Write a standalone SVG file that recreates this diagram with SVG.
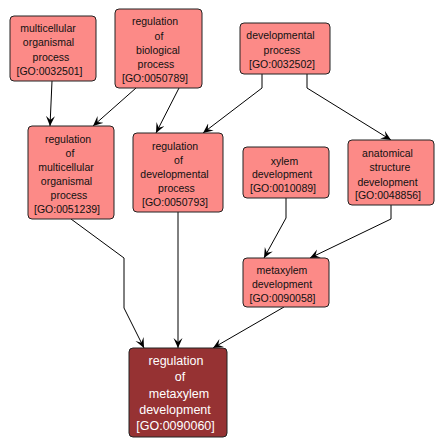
<svg xmlns="http://www.w3.org/2000/svg" width="445" height="448" viewBox="0 0 445 448">
<defs>
<style>
.n rect{fill:#fc8a87;stroke:#222;stroke-width:1}
.n text{font-family:"Liberation Sans",Arial,sans-serif;font-size:10.5px;fill:#111;text-anchor:middle}
#n9 rect{fill:#963233;stroke:#222}
#n9 text{fill:#fff;font-size:12.5px}
.e path{fill:none;stroke:#000;stroke-width:1;marker-end:url(#ah)}
</style>
<marker id="ah" markerUnits="userSpaceOnUse" markerWidth="11" markerHeight="10" refX="10" refY="4.5" orient="auto" viewBox="0 0 11 10">
<path d="M0,0 L10,4.5 L0,9 L4,4.5 z" fill="#000"/>
</marker>
</defs>
<rect width="445" height="448" fill="#fff"/>
<g class="e">
<path d="M52,81 L50,126"/>
<path d="M136,88 L93,126"/>
<path d="M179,88 L156,133"/>
<path d="M262,74 L262,88 L203,133"/>
<path d="M307,74 L307,88 L391,140"/>
<path d="M71,219 L124,258 L124,308 L144,348"/>
<path d="M178,212 L178,348"/>
<path d="M286,198 L286,218 L264,258"/>
<path d="M391,205 L391,219 L310,258"/>
<path d="M284,307 L213,348"/>
</g>
<g id="n1" class="n"><rect x="10" y="16" width="86" height="65" rx="4"/>
<text x="48" y="31.9">multicellular</text><text x="48.5" y="46.2">organismal</text><text x="51" y="60.5">process</text><text x="49.5" y="74.8">[GO:0032501]</text></g>
<g id="n2" class="n"><rect x="115" y="9" width="87" height="79" rx="4"/>
<text x="155" y="25.4">regulation</text><text x="159" y="39.6">of</text><text x="158" y="53.8">biological</text><text x="156" y="68">process</text><text x="155" y="82.2">[GO:0050789]</text></g>
<g id="n3" class="n"><rect x="240" y="23" width="90" height="51" rx="4"/>
<text x="280.5" y="38.8">developmental</text><text x="282" y="53.8">process</text><text x="282" y="67.8">[GO:0032502]</text></g>
<g id="n4" class="n"><rect x="28" y="126" width="86" height="93" rx="4"/>
<text x="68" y="143.1">regulation</text><text x="70" y="157.1">of</text><text x="66" y="171.1">multicellular</text><text x="66.5" y="184.8">organismal</text><text x="69" y="198.8">process</text><text x="67" y="212.8">[GO:0051239]</text></g>
<g id="n5" class="n"><rect x="133" y="133" width="90" height="79" rx="4"/>
<text x="175" y="149.8">regulation</text><text x="178.5" y="163.8">of</text><text x="174.5" y="177.8">developmental</text><text x="176.5" y="192.1">process</text><text x="175" y="205.8">[GO:0050793]</text></g>
<g id="n6" class="n"><rect x="243" y="147" width="86" height="51" rx="4"/>
<text x="284.5" y="164.5">xylem</text><text x="282" y="177.8">development</text><text x="283" y="192.1">[GO:0010089]</text></g>
<g id="n7" class="n"><rect x="348" y="140" width="86" height="65" rx="4"/>
<text x="387.5" y="157.1">anatomical</text><text x="390" y="171.1">structure</text><text x="387.5" y="185.5">development</text><text x="388" y="198.8">[GO:0048856]</text></g>
<g id="n8" class="n"><rect x="243" y="258" width="86" height="49" rx="4"/>
<text x="282" y="273.8">metaxylem</text><text x="282" y="287.8">development</text><text x="282.5" y="302.1">[GO:0090058]</text></g>
<g id="n9" class="n"><rect x="129" y="348" width="98" height="89" rx="4"/>
<text x="176" y="365.2">regulation</text><text x="180" y="381.2">of</text><text x="179" y="397.8">metaxylem</text><text x="175" y="413.8">development</text><text x="175.5" y="430.2">[GO:0090060]</text></g>
</svg>
